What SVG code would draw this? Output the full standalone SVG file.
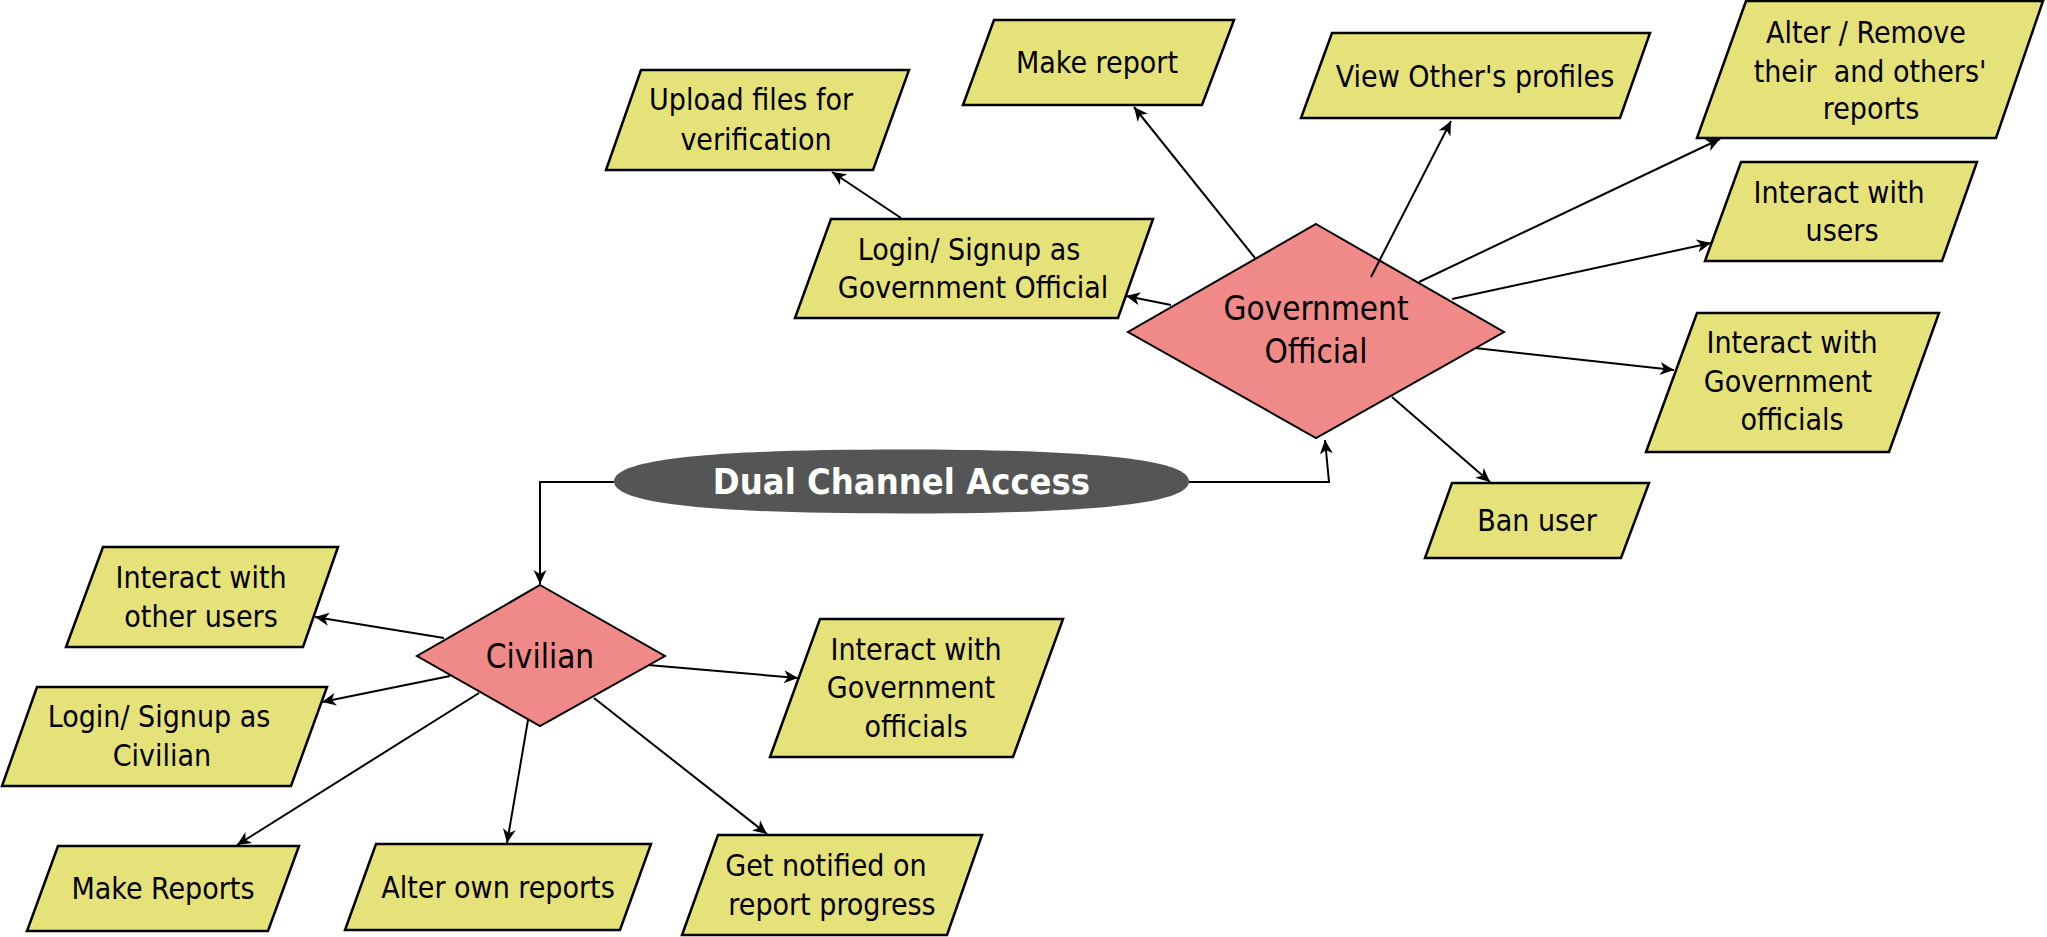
<svg xmlns="http://www.w3.org/2000/svg" width="2047" height="937" viewBox="0 0 2047 937">
<style>
.box{fill:#e6e27a;stroke:#000;stroke-width:2.5;stroke-linejoin:miter}
.dia{fill:#f08a88;stroke:#000;stroke-width:2}
.t{font-family:'DejaVu Sans Condensed','DejaVu Sans',sans-serif;font-stretch:condensed;font-size:30px;fill:#000;text-anchor:middle}
.td{font-size:33px}
.title{font-family:'DejaVu Sans Condensed','DejaVu Sans',sans-serif;font-stretch:condensed;font-weight:bold;font-size:36px;fill:#fff;text-anchor:middle}
.c{fill:none;stroke:#000;stroke-width:2;marker-end:url(#arr)}
</style>
<defs>
<marker id="arr" markerUnits="userSpaceOnUse" markerWidth="16" markerHeight="14" refX="14" refY="7" orient="auto">
<path d="M0,0.5 L14,7 L0,13.5 L4,7 z" fill="#000"/>
</marker>
</defs>
<rect width="2047" height="937" fill="#fff"/>
<g id="upload"><polygon class="box" points="641,70 909,70 873,170 606,170"/><text class="t" x="751" y="110">Upload files for</text><text class="t" x="756" y="150">verification</text></g>
<g id="makereport"><polygon class="box" points="994,20 1234,20 1202,105 963,105"/><text class="t" x="1097" y="73">Make report</text></g>
<g id="viewothers"><polygon class="box" points="1332,33 1650,33 1620,118 1301,118"/><text class="t" x="1475" y="87">View Other's profiles</text></g>
<g id="alter"><polygon class="box" points="1746,1 2043,1 1996,138 1697,138"/><text class="t" x="1866" y="43">Alter / Remove</text><text class="t" x="1870" y="82" xml:space="preserve">their  and others'</text><text class="t" x="1871" y="119">reports</text></g>
<g id="interactusers"><polygon class="box" points="1741,162 1977,162 1942,261 1705,261"/><text class="t" x="1839" y="203">Interact with</text><text class="t" x="1842" y="241">users</text></g>
<g id="logingov"><polygon class="box" points="831,219 1153,219 1118,318 795,318"/><text class="t" x="969" y="260">Login/ Signup as</text><text class="t" x="973" y="298">Government Official</text></g>
<g id="gov"><polygon class="dia" points="1316,224 1504,332 1316,438 1128,332"/><text class="t td" x="1316" y="320">Government</text><text class="t td" x="1316" y="363">Official</text></g>
<g id="interactgovofficials1"><polygon class="box" points="1697,313 1939,313 1889,452 1646,452"/><text class="t" x="1792" y="353">Interact with</text><text class="t" x="1788" y="392">Government</text><text class="t" x="1792" y="430">officials</text></g>
<g id="banuser"><polygon class="box" points="1452,483 1649,483 1621,558 1425,558"/><text class="t" x="1537" y="531">Ban user</text></g>
<g id="dualchannel"><path d="M614,481.5 C614,459.7 706,449.5 901.5,449.5 C1097,449.5 1189,459.7 1189,481.5 C1189,503.3 1097,513.5 901.5,513.5 C706,513.5 614,503.3 614,481.5 Z" fill="#555555"/><text class="title" x="901.5" y="494">Dual Channel Access</text></g>
<g id="civilian"><polygon class="dia" points="540,585 665,656 540,726 417,656"/><text class="t td" x="540" y="668">Civilian</text></g>
<g id="interactother"><polygon class="box" points="103,547 338,547 303,647 66,647"/><text class="t" x="201" y="588">Interact with</text><text class="t" x="201" y="627">other users</text></g>
<g id="logincivilian"><polygon class="box" points="37,687 327,687 291,786 2,786"/><text class="t" x="159" y="727">Login/ Signup as</text><text class="t" x="162" y="766">Civilian</text></g>
<g id="makereports"><polygon class="box" points="58,846 299,846 268,931 27,931"/><text class="t" x="163" y="899">Make Reports</text></g>
<g id="alterown"><polygon class="box" points="376,844 651,844 620,930 345,930"/><text class="t" x="498" y="898">Alter own reports</text></g>
<g id="getnotified"><polygon class="box" points="718,835 982,835 947,935 682,935"/><text class="t" x="826" y="876">Get notified on</text><text class="t" x="832" y="915">report progress</text></g>
<g id="interactgovofficials2"><polygon class="box" points="820,619 1063,619 1013,757 770,757"/><text class="t" x="916" y="660">Interact with</text><text class="t" x="911" y="698">Government</text><text class="t" x="916" y="737">officials</text></g>
<g id="connectors">
<path class="c" d="M614,482 L540,482 L540,584"/>
<path class="c" d="M1189,482 L1329,482 L1325,440"/>
<path class="c" d="M1171,305 L1126,296"/>
<path class="c" d="M901,218 L832,172"/>
<path class="c" d="M1255,258 L1134,107"/>
<path class="c" d="M1371,277 L1451,121"/>
<path class="c" d="M1419,282 L1720,139"/>
<path class="c" d="M1452,299 L1711,243"/>
<path class="c" d="M1475,348 L1674,370"/>
<path class="c" d="M1392,397 L1490,482"/>
<path class="c" d="M444,638 L315,617"/>
<path class="c" d="M450,676 L322,702"/>
<path class="c" d="M479,693 L237,845"/>
<path class="c" d="M528,720 L507,843"/>
<path class="c" d="M594,698 L767,834"/>
<path class="c" d="M648,665 L798,678"/>
</g>
</svg>
